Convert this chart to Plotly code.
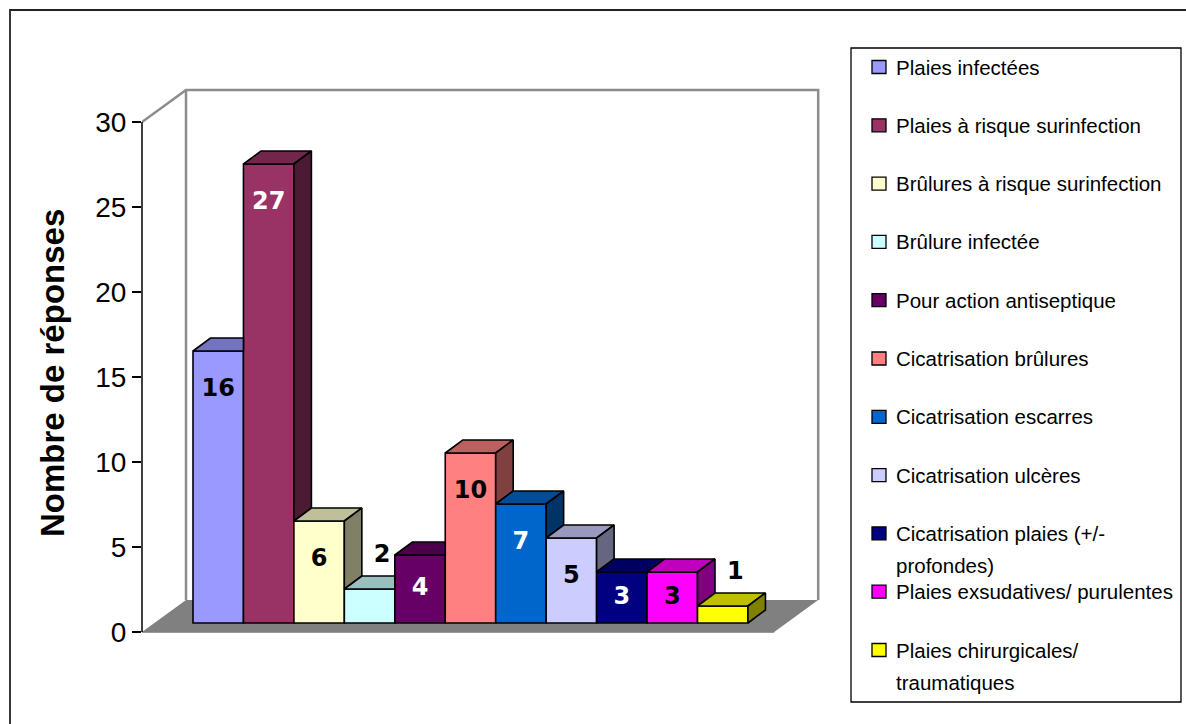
import plotly.graph_objects as go

# ---------------- data ----------------
categories = [
    "Plaies infectées",
    "Plaies à risque surinfection",
    "Brûlures à risque surinfection",
    "Brûlure infectée",
    "Pour action antiseptique",
    "Cicatrisation brûlures",
    "Cicatrisation escarres",
    "Cicatrisation ulcères",
    "Cicatrisation plaies (+/- profondes)",
    "Plaies exsudatives/ purulentes",
    "Plaies chirurgicales/ traumatiques",
]
legend_labels = [
    "Plaies infectées",
    "Plaies à risque surinfection",
    "Brûlures à risque surinfection",
    "Brûlure infectée",
    "Pour action antiseptique",
    "Cicatrisation brûlures",
    "Cicatrisation escarres",
    "Cicatrisation ulcères",
    "Cicatrisation plaies (+/-\nprofondes)",
    "Plaies exsudatives/ purulentes",
    "Plaies chirurgicales/\ntraumatiques",
]
values = [16, 27, 6, 2, 4, 10, 7, 5, 3, 3, 1]
colors = ["#9999FF", "#993366", "#FFFFCC", "#CCFFFF", "#660066", "#FF8080",
          "#0066CC", "#CCCCFF", "#000080", "#FF00FF", "#FFFF00"]
y_ticks = [0, 5, 10, 15, 20, 25, 30]
y_title = "Nombre de réponses"

# ---------------- layout geometry (pixels) ----------------
W, H = 1186, 724
PL, PR, PT, PB = 142, 830, 80, 632          # plot area bounds
UX, UY = 50.45, 17.0                         # px per category / per unit
FIRST_BAR_LEFT_PX = 193
XMIN = -0.5 - (FIRST_BAR_LEFT_PX - PL) / UX
XMAX = XMIN + (PR - PL) / UX
YMAX = (PB - PT) / UY
YTOP = max(y_ticks)

FDX, FDY = 44 / UX, 32 / UY                  # floor / wall depth
SETBACK = 9 / 32                             # bars set back into the floor
BASE = SETBACK * FDY
SBX = SETBACK * FDX
BDX, BDY = 17.5 / UX, 13 / UY                # bar depth
GAP = (-0.5) - (XMIN + SBX)                  # floor margin at bar plane
N = len(values)
FLOOR_R = (N - 0.5) + GAP - SBX

def paper_x(px):
    return (px - PL) / (PR - PL)

def paper_y(py):
    return (PB - py) / (PB - PT)

def shade(hexc, f):
    r, g, b = int(hexc[1:3], 16), int(hexc[3:5], 16), int(hexc[5:7], 16)
    return "rgb(%d,%d,%d)" % (round(r * f), round(g * f), round(b * f))

def is_dark(hexc):
    r, g, b = int(hexc[1:3], 16), int(hexc[3:5], 16), int(hexc[5:7], 16)
    return 0.299 * r + 0.587 * g + 0.114 * b < 95

fig = go.Figure()

# front faces
for i, (cat, v, c) in enumerate(zip(categories, values, colors)):
    fig.add_trace(go.Bar(
        x=[i], y=[v], base=BASE, width=1, name=cat,
        marker=dict(color=c, line=dict(color="black", width=1.6)),
        showlegend=False, hoverinfo="skip",
    ))

# top and side faces (3D look), with occlusion by the next bar
tops = [BASE + v for v in values]
for i, c in enumerate(colors):
    xl, xr = i - 0.5, i + 0.5
    t = tops[i]
    t_next = tops[i + 1] if i + 1 < N else BASE
    if t_next <= t:
        tx = [xl, xl + BDX, xr + BDX, xr, xl]
        ty = [t, t + BDY, t + BDY, t, t]
    else:
        s = max(0.0, (t + BDY - t_next) / BDY)
        tx = [xl, xl + BDX, xr + s * BDX, xr, xr, xl]
        ty = [t, t + BDY, t + BDY, min(t_next, t + BDY), t, t]
    fig.add_trace(go.Scatter(
        x=tx, y=ty, mode="lines", fill="toself", fillcolor=shade(c, 0.75),
        line=dict(color="black", width=1.6), showlegend=False, hoverinfo="skip"))
    if t > t_next:
        lo = max(BASE, t_next)
        sx = [xr, xr + BDX, xr + BDX, xr, xr]
        sy = [lo, lo + BDY, t + BDY, t, lo]
        fig.add_trace(go.Scatter(
            x=sx, y=sy, mode="lines", fill="toself", fillcolor=shade(c, 0.5),
            line=dict(color="black", width=1.6), showlegend=False, hoverinfo="skip"))

# data labels
lx, ly, lc = [], [], []
for i, (v, c) in enumerate(zip(values, colors)):
    top = BASE + v
    if v >= 2.5:
        lx.append(i)
        ly.append(max(top - 2.3, BASE + v / 2))
        lc.append("white" if is_dark(c) else "black")
    else:
        lx.append(i + 0.25)
        ly.append(top + 1.95)
        lc.append("black")
fig.add_trace(go.Scatter(
    x=lx, y=ly, mode="text", text=[str(v) for v in values],
    textfont=dict(family="DejaVu Sans", size=24, color=lc, weight="bold"),
    showlegend=False, hoverinfo="skip", cliponaxis=False))

# ---------------- shapes: floor, walls, axis line ----------------
shapes = []
floor_path = "M %f,%f L %f,%f L %f,%f L %f,%f Z" % (
    XMIN, 0, XMIN + FDX, FDY, FLOOR_R + FDX, FDY, FLOOR_R, 0)
shapes.append(dict(type="path", path=floor_path, xref="x", yref="y",
                   fillcolor="#808080", line=dict(width=0), layer="below"))
wall_col = "#8c8c8c"
bw_l, bw_r, bw_t = XMIN + FDX, FLOOR_R + FDX, YTOP + FDY
shapes.append(dict(type="path",
                   path="M %f,%f L %f,%f L %f,%f L %f,%f" % (bw_l, FDY, bw_l, bw_t, bw_r, bw_t, bw_r, FDY),
                   xref="x", yref="y", line=dict(color=wall_col, width=2.5), layer="below"))
shapes.append(dict(type="line", x0=XMIN, y0=YTOP, x1=bw_l, y1=bw_t, xref="x", yref="y",
                   line=dict(color=wall_col, width=2.5), layer="below"))
# value axis line (front-left edge)
shapes.append(dict(type="line", x0=0, x1=0, xref="paper", y0=0, y1=YTOP, yref="y",
                   line=dict(color="black", width=1.5), layer="above"))
# category axis line (front edge of floor)
shapes.append(dict(type="line", x0=XMIN, x1=FLOOR_R, xref="x", y0=0, y1=0, yref="paper",
                   line=dict(color="#333333", width=1), layer="below"))

# outer chart border
shapes.append(dict(type="rect", xref="paper", yref="paper",
                   x0=paper_x(10), x1=paper_x(W + 10), y0=paper_y(H + 10), y1=paper_y(10),
                   line=dict(color="#222222", width=1.8), fillcolor="rgba(0,0,0,0)"))

# ---------------- custom legend ----------------
LEG_L, LEG_R, LEG_T, LEG_B = 851, 1181, 48, 702
shapes.append(dict(type="rect", xref="paper", yref="paper",
                   x0=paper_x(LEG_L), x1=paper_x(LEG_R), y0=paper_y(LEG_B), y1=paper_y(LEG_T),
                   line=dict(color="black", width=1.3), fillcolor="white"))
annotations = []
ENTRY0, STEP, LINE_STEP = 67, 58.3, 32
for i, (lab, c) in enumerate(zip(legend_labels, colors)):
    yc = ENTRY0 + STEP * i
    shapes.append(dict(type="rect", xref="paper", yref="paper",
                       x0=paper_x(872), x1=paper_x(886), y0=paper_y(yc + 6.5), y1=paper_y(yc - 6.5),
                       fillcolor=c, line=dict(color="black", width=1.3)))
    for k, part in enumerate(lab.split("\n")):
        annotations.append(dict(
            text=part, xref="paper", yref="paper", x=paper_x(894), y=paper_y(yc + LINE_STEP * k),
            xanchor="left", yanchor="middle", showarrow=False,
            font=dict(family="Liberation Sans, Arial", size=20.5, color="black")))

# axis title
annotations.append(dict(
    text="<b>%s</b>" % y_title, xref="paper", yref="paper", x=paper_x(52), y=paper_y(373),
    xanchor="center", yanchor="middle", textangle=-90, showarrow=False,
    font=dict(family="Liberation Sans, Arial", size=33, color="black")))

fig.update_layout(
    width=W, height=H,
    margin=dict(l=PL, r=W - PR, t=PT, b=H - PB, pad=0),
    paper_bgcolor="white", plot_bgcolor="white",
    barmode="overlay",
    showlegend=False,
    xaxis=dict(range=[XMIN, XMAX], visible=False, fixedrange=True),
    yaxis=dict(range=[0, YMAX], tickvals=y_ticks, ticktext=[str(t) for t in y_ticks],
               showgrid=False, zeroline=False, showline=False,
               ticks="outside", ticklen=9, tickwidth=1.5, tickcolor="black",
               tickfont=dict(family="Liberation Sans, Arial", size=28, color="black"),
               fixedrange=True),
    shapes=shapes,
    annotations=annotations,
)

fig.write_html("out.html",
               config={"displayModeBar": False, "staticPlot": True},
               post_script="document.body.style.margin='0';document.body.style.overflow='hidden';")
